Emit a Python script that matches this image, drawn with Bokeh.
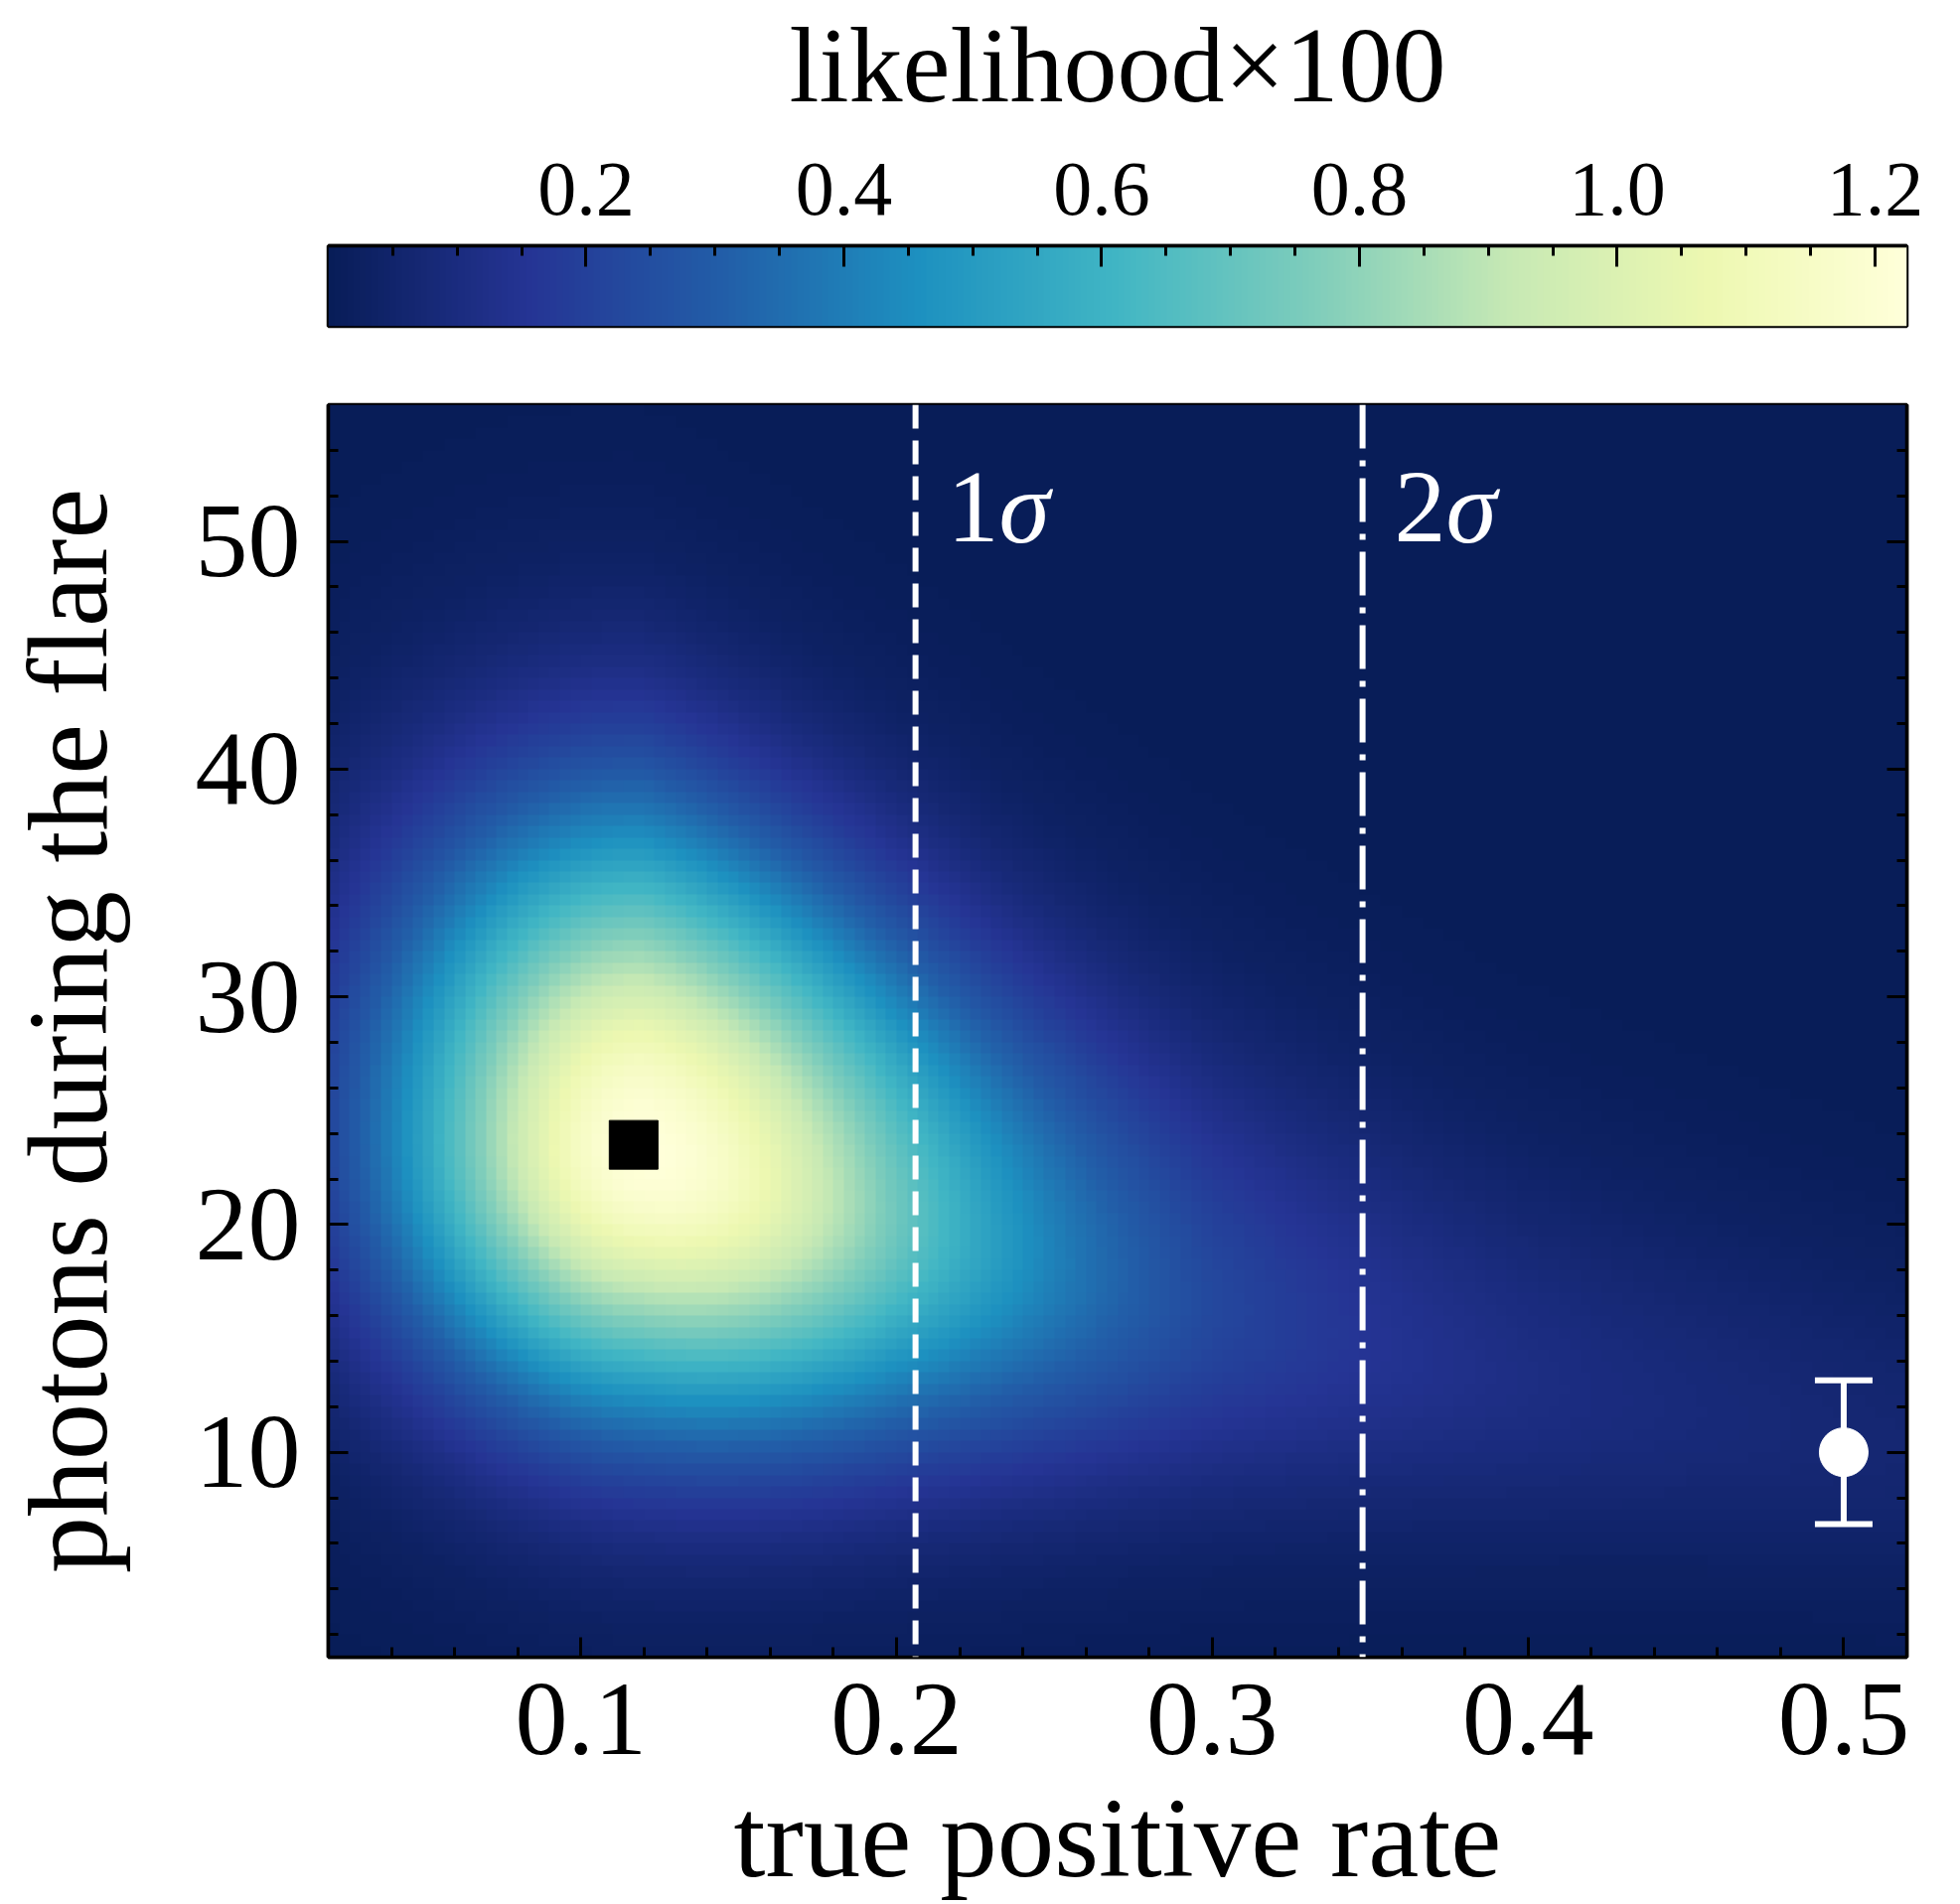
import numpy as np
from bokeh.plotting import figure
from bokeh.layouts import column
from bokeh.models import (LinearColorMapper, LinearAxis, FixedTicker, Range1d,
                          Span, Label)
from bokeh.palettes import YlGnBu9
from bokeh.embed import file_html
from bokeh.resources import INLINE

FONT = "Liberation Serif"

# ---- axes ----
tpr_range = [0.02, 0.52]
photon_range = [1.0, 56.0]
x_ticks = [0.1, 0.2, 0.3, 0.4, 0.5]
x_tick_labels = ["0.1", "0.2", "0.3", "0.4", "0.5"]
x_minor_ticks = [0.04, 0.06, 0.08, 0.12, 0.14, 0.16, 0.18, 0.22, 0.24, 0.26, 0.28,
                 0.32, 0.34, 0.36, 0.38, 0.42, 0.44, 0.46, 0.48, 0.52]
y_ticks = [10, 20, 30, 40, 50]
y_tick_labels = ["10", "20", "30", "40", "50"]
y_minor_ticks = [2, 4, 6, 8, 12, 14, 16, 18, 22, 24, 26, 28, 32, 34, 36, 38,
                 42, 44, 46, 48, 52, 54]

# ---- colour scale (likelihood x 100) ----
cbar_max = 1.2247
cbar_ticks = [0.2, 0.4, 0.6, 0.8, 1.0, 1.2]
cbar_tick_labels = ["0.2", "0.4", "0.6", "0.8", "1.0", "1.2"]
cbar_minor_ticks = [0.05, 0.1, 0.15, 0.25, 0.3, 0.35, 0.45, 0.5, 0.55, 0.65, 0.7,
                    0.75, 0.85, 0.9, 0.95, 1.05, 1.1, 1.15]

# ---- likelihood surface: peak, ridge and widths ----
n_tpr, n_photons = 150, 110
peak_tpr = 0.12
peak_like = 1.2247
tpr_width_low = 0.054
tail_tpr = [0.12, 0.2, 0.3, 0.4, 0.52]
tail_width = [0.070, 0.078, 0.098, 0.128, 0.166]
ridge_tpr = [0.02, 0.12, 0.2, 0.3, 0.4, 0.52]
ridge_photons = [24.0, 23.2, 20.5, 16.5, 13.0, 10.0]
ridge_width_low = [7.7, 7.7, 7.0, 6.0, 5.0, 4.2]
ridge_width_high = [9.8, 9.8, 9.0, 8.0, 7.0, 6.0]

# ---- markers ----
best_fit_tpr = [0.1167]
best_fit_photons = [23.5]
obs_tpr = [0.5]
obs_photons = [10.0]
obs_err = [3.16]
sigma_tpr = [0.206, 0.3476]
sigma_level = ["1", "2"]
sigma_dash = ["24 12", "44 12 6 12"]

# evaluate the surface on the cell grid
dx = (tpr_range[1] - tpr_range[0]) / n_tpr
dy = (photon_range[1] - photon_range[0]) / n_photons
tc = tpr_range[0] + (np.arange(n_tpr) + 0.5) * dx
nc = photon_range[0] + (np.arange(n_photons) + 0.5) * dy
T, N = np.meshgrid(tc, nc)
s_t = np.where(T < peak_tpr, tpr_width_low, np.interp(T, tail_tpr, tail_width))
height = peak_like * np.exp(-0.5 * ((T - peak_tpr) / s_t) ** 2)
mu = np.interp(T, ridge_tpr, ridge_photons)
s_n = np.where(N < mu, np.interp(T, ridge_tpr, ridge_width_low),
               np.interp(T, ridge_tpr, ridge_width_high))
like = height * np.exp(-0.5 * ((N - mu) / s_n) ** 2)


# 256-step YlGnBu ramp, dark navy at the low end
def hex_rgb(h):
    return np.array([int(h[i:i + 2], 16) for i in (1, 3, 5)], dtype=float)


stops = [hex_rgb(c) for c in YlGnBu9]
if stops[0].sum() > stops[-1].sum():
    stops = stops[::-1]
stops = np.array(stops)
pos = np.linspace(0, 1, len(stops))
ramp = np.linspace(0, 1, 256)
rgb = np.stack([np.interp(ramp, pos, stops[:, k]) for k in range(3)], axis=1)
palette = ["#%02x%02x%02x" % tuple(int(round(v)) for v in c) for c in rgb]

mapper = LinearColorMapper(palette=palette, low=0.0, high=cbar_max)


def style_axis(ax, major_in, minor_in):
    ax.major_tick_in = major_in
    ax.major_tick_out = 0
    ax.minor_tick_in = minor_in
    ax.minor_tick_out = 0
    ax.major_tick_line_width = 3
    ax.minor_tick_line_width = 3
    ax.axis_line_width = 3.5
    ax.axis_line_color = "black"
    ax.major_tick_line_color = "black"
    ax.minor_tick_line_color = "black"
    ax.major_label_text_font = FONT
    ax.major_label_text_color = "black"
    ax.axis_label_text_font = FONT
    ax.axis_label_text_font_style = "normal"
    ax.axis_label_text_color = "black"


# ---- colour bar ----
cb = figure(width=1973, height=370, x_range=Range1d(0, cbar_max), y_range=Range1d(0, 1),
            output_backend="svg", toolbar_location=None,
            x_axis_location="above", y_axis_location=None,
            min_border_left=330, min_border_right=54, min_border_top=247,
            min_border_bottom=42)
cb.grid.visible = False
cb.outline_line_color = "black"
cb.outline_line_width = 3.5
cb.image(image=[np.linspace(0, cbar_max, 256)[None, :]], x=0, y=0, dw=cbar_max, dh=1,
         color_mapper=mapper)
cax = cb.xaxis[0]
cax.ticker = FixedTicker(ticks=cbar_ticks, minor_ticks=cbar_minor_ticks)
cax.major_label_overrides = dict(zip(cbar_ticks, cbar_tick_labels))
style_axis(cax, 21, 10)
cax.major_label_text_font_size = "78px"
cax.major_label_standoff = 32
cax.axis_label = "likelihood×100"
cax.axis_label_text_font_size = "108px"
cax.axis_label_standoff = 37

# ---- likelihood map ----
p = figure(width=1973, height=1547, x_range=Range1d(*tpr_range), y_range=Range1d(*photon_range),
           output_backend="svg", toolbar_location=None,
           min_border_left=330, min_border_right=54, min_border_top=37,
           min_border_bottom=249)
p.grid.visible = False
p.outline_line_color = "black"
p.outline_line_width = 3.5
p.image(image=[like], x=tpr_range[0], y=photon_range[0],
        dw=tpr_range[1] - tpr_range[0], dh=photon_range[1] - photon_range[0],
        color_mapper=mapper)

xa = p.xaxis[0]
xa.ticker = FixedTicker(ticks=x_ticks, minor_ticks=x_minor_ticks)
xa.major_label_overrides = dict(zip(x_ticks, x_tick_labels))
style_axis(xa, 20, 10)
xa.major_label_text_font_size = "106px"
xa.major_label_standoff = 27
xa.axis_label = "true positive rate"
xa.axis_label_text_font_size = "115px"
xa.axis_label_standoff = 18

ya = p.yaxis[0]
ya.ticker = FixedTicker(ticks=y_ticks, minor_ticks=y_minor_ticks)
ya.major_label_overrides = dict(zip(y_ticks, y_tick_labels))
style_axis(ya, 20, 10)
ya.major_label_text_font_size = "106px"
ya.major_label_standoff = 28
ya.axis_label = "photons during the flare"
ya.axis_label_text_font_size = "114px"
ya.axis_label_standoff = 62

# right-hand axis carries ticks only
ra = LinearAxis(ticker=FixedTicker(ticks=y_ticks, minor_ticks=y_minor_ticks))
style_axis(ra, 20, 10)
ra.major_label_text_color = None
ra.major_label_text_font_size = "1px"
ra.major_label_standoff = 0
p.add_layout(ra, "right")

# 1-sigma / 2-sigma limits on the true positive rate
for loc, dash, lvl in zip(sigma_tpr, sigma_dash, sigma_level):
    p.add_layout(Span(location=loc, dimension="height", line_color="white",
                      line_width=6, line_dash=dash))
    p.add_layout(Label(x=loc + 0.01, y=51.5, text=lvl, text_color="white",
                       text_font=FONT, text_font_size="104px",
                       text_align="left", text_baseline="alphabetic"))
    p.add_layout(Label(x=loc + 0.01, y=51.5, x_offset=52, text="σ", text_color="white",
                       text_font=FONT, text_font_size="104px", text_font_style="italic",
                       text_align="left", text_baseline="alphabetic"))

p.scatter(x=best_fit_tpr, y=best_fit_photons, marker="square", size=49,
          fill_color="black", line_color="black")

# observed point with its error bar
obs_lower = [v - e for v, e in zip(obs_photons, obs_err)]
obs_upper = [v + e for v, e in zip(obs_photons, obs_err)]
p.segment(x0=obs_tpr, y0=obs_lower, x1=obs_tpr, y1=obs_upper,
          line_color="white", line_width=6)
p.scatter(x=obs_tpr + obs_tpr, y=obs_lower + obs_upper, marker="dash", size=58,
          line_color="white", line_width=6)
p.scatter(x=obs_tpr, y=obs_photons, marker="circle", size=49,
          fill_color="white", line_color="white")

layout = column(cb, p, spacing=0)
open("out.html", "w").write(file_html(layout, INLINE))
